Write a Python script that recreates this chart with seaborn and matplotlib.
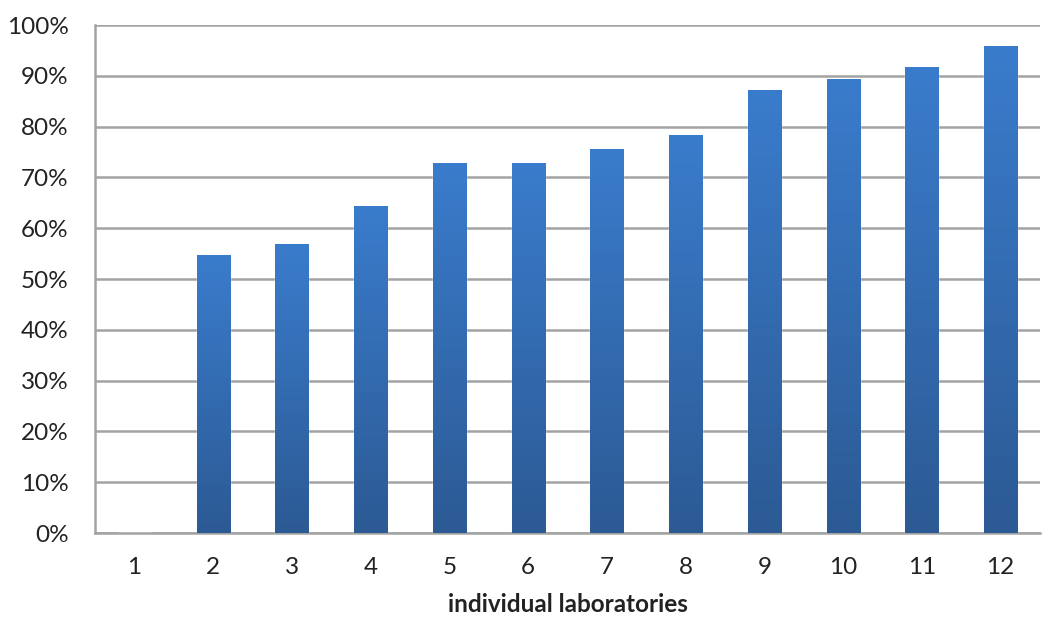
import numpy as np
import pandas as pd
import matplotlib
matplotlib.use("Agg")
import matplotlib.pyplot as plt
import seaborn as sns
from matplotlib.colors import LinearSegmentedColormap

labs = ["1", "2", "3", "4", "5", "6", "7", "8", "9", "10", "11", "12"]
values = [0.0, 54.7, 56.9, 64.4, 72.8, 72.8, 75.6, 78.3, 87.2, 89.4, 91.7, 95.9]
yticks = [0, 10, 20, 30, 40, 50, 60, 70, 80, 90, 100]
ylabels = [f"{v}%" for v in yticks]
xlabel = "individual laboratories"

sns.set_style("white")
plt.rcParams['font.family'] = ['Lato', 'DejaVu Sans']

df = pd.DataFrame({"lab": labs, "val": values})

fig = plt.figure(figsize=(10.49, 6.17), dpi=100)
ax = fig.add_axes([95/1049, 1 - 533/617, (1040 - 95)/1049, (533 - 25)/617])

sns.barplot(data=df, x="lab", y="val", ax=ax, color="#3a78c6", width=0.42,
            saturation=1, zorder=3)

cmap = LinearSegmentedColormap.from_list("g", ["#2c5a94", "#3a7ccc"])
grad = np.linspace(0, 1, 256).reshape(-1, 1)
for p in ax.patches:
    x0, y0 = p.get_x(), p.get_y()
    w, h = p.get_width(), p.get_height()
    if h <= 0:
        continue
    im = ax.imshow(grad, cmap=cmap, origin="lower", aspect="auto",
                   extent=[x0, x0 + w, y0, y0 + h], zorder=4)
    im.set_clip_path(p)

ax.set_xlim(-0.5, len(labs) - 0.5)
ax.set_ylim(0, 100)
ax.set_yticks(yticks)
ax.set_yticklabels(ylabels)
ax.yaxis.grid(True, color="#a3a3a3", linewidth=1.8, zorder=0)
ax.set_axisbelow(True)

ax.set_xticks(np.arange(-0.5, len(labs), 1.0), minor=True)
ax.tick_params(axis="x", which="major", length=0, pad=17, labelsize=17.5, labelcolor="#222222")
ax.tick_params(axis="x", which="minor", length=7, width=1.5, color="#a3a3a3", direction="out")
ax.tick_params(axis="y", which="major", length=7, width=1.5, color="#a3a3a3", direction="out",
               labelsize=17.5, labelcolor="#222222", pad=12)

for s in ["top", "right"]:
    ax.spines[s].set_visible(False)
for s in ["left", "bottom"]:
    ax.spines[s].set_color("#a3a3a3")
    ax.spines[s].set_linewidth(1.8)

ax.set_xlabel(xlabel, fontsize=17.5, fontweight="bold", color="#222222", labelpad=11)
ax.set_ylabel("")

fig.savefig("out.png", dpi=100)
